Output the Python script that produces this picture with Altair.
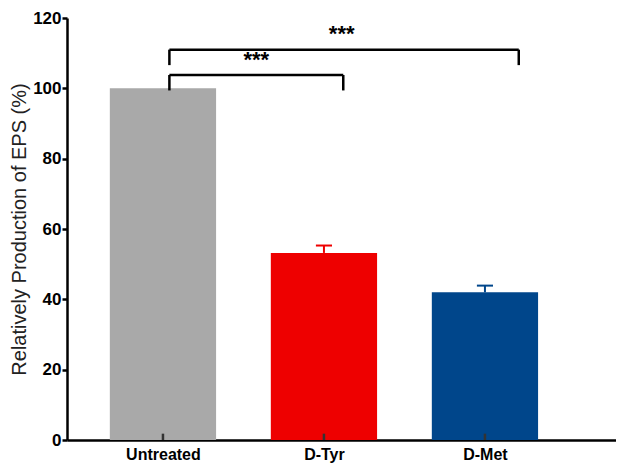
import altair as alt
import pandas as pd

categories = ["Untreated", "D-Tyr", "D-Met"]
positions = [1, 2, 3]
values = [100.0, 53.2, 42.0]
errors = [0.0, 2.1, 1.9]
colors = ["#A9A9A9", "#EE0000", "#00468B"]

# significance brackets: (left x, right x, top y, drop y)
brackets_x1 = [1.04, 1.04]
brackets_x2 = [2.12, 3.21]
brackets_top = [103.8, 111.0]
brackets_foot = [99.4, 106.6]
stars_x = [1.58, 2.11]
stars_y = [108.6, 115.9]
stars_text = ["***", "***"]

bar_half = 0.33
cap_half = 0.05

bars = pd.DataFrame({
    "cat": categories, "pos": positions, "val": values, "err": errors, "color": colors,
})
bars["x1"] = bars["pos"] - bar_half
bars["x2"] = bars["pos"] + bar_half
bars["top"] = bars["val"] + bars["err"]
bars["c1"] = bars["pos"] - cap_half
bars["c2"] = bars["pos"] + cap_half
err_df = bars[bars["err"] > 0]

label_expr = "datum.value == 1 ? 'Untreated' : datum.value == 2 ? 'D-Tyr' : datum.value == 3 ? 'D-Met' : ''"

xscale = alt.Scale(domain=[0.404, 3.814], nice=False, zero=False)
yscale = alt.Scale(domain=[0, 120], nice=False)

base = alt.Chart(bars)

bar_layer = base.mark_rect().encode(
    x=alt.X("x1:Q", scale=xscale, axis=alt.Axis(
        values=positions, labelExpr=label_expr, title=None, grid=False,
        tickSize=0, domainColor="black", domainWidth=2.5,
        labelFont="Liberation Sans", labelFontWeight="bold", labelFontSize=16,
        labelColor="black", labelPadding=6)),
    x2="x2:Q",
    y=alt.Y("val:Q", scale=yscale, axis=alt.Axis(
        values=[0, 20, 40, 60, 80, 100, 120], title="Relatively Production of EPS (%)",
        grid=False, tickSize=5, tickWidth=2.5, tickColor="black",
        domainColor="black", domainWidth=2.5,
        labelFont="Liberation Sans", labelFontWeight="bold", labelFontSize=17,
        labelColor="black", labelPadding=1,
        titleFont="Liberation Sans", titleFontWeight="normal", titleFontSize=20,
        titleColor="#222222", titlePadding=3)),
    y2=alt.datum(0),
    color=alt.Color("color:N", scale=None),
)

ticks = base.mark_rule(color="#333333", strokeWidth=2.5).encode(
    x="pos:Q", y=alt.datum(0), y2=alt.datum(1.8),
)

err_line = alt.Chart(err_df).mark_rule(strokeWidth=2).encode(
    x="pos:Q", y="val:Q", y2="top:Q", color=alt.Color("color:N", scale=None),
)
err_cap = alt.Chart(err_df).mark_rule(strokeWidth=2).encode(
    x="c1:Q", x2="c2:Q", y="top:Q", color=alt.Color("color:N", scale=None),
)

br = pd.DataFrame({"x1": brackets_x1, "x2": brackets_x2, "top": brackets_top, "foot": brackets_foot})
br_h = alt.Chart(br).mark_rule(color="black", strokeWidth=2.5).encode(
    x="x1:Q", x2="x2:Q", y="top:Q")
br_l = alt.Chart(br).mark_rule(color="black", strokeWidth=2.5).encode(
    x="x1:Q", y="top:Q", y2="foot:Q")
br_r = alt.Chart(br).mark_rule(color="black", strokeWidth=2.5).encode(
    x="x2:Q", y="top:Q", y2="foot:Q")

st = pd.DataFrame({"x": stars_x, "y": stars_y, "t": stars_text})
stars = alt.Chart(st).mark_text(font="Liberation Sans", fontWeight="bold", fontSize=22,
                                color="black", baseline="middle", dy=2).encode(
    x="x:Q", y="y:Q", text="t:N")

chart = alt.layer(bar_layer, ticks, err_line, err_cap, br_h, br_l, br_r, stars).properties(
    width=549, height=422,
    background="white",
    autosize=alt.AutoSizeParams(type="none"),
    padding={"left": 59, "top": 10, "right": 0, "bottom": 25},
).configure_view(strokeWidth=0, stroke="transparent")

chart.save("out.html", embed_options={"renderer": "svg", "actions": False})
